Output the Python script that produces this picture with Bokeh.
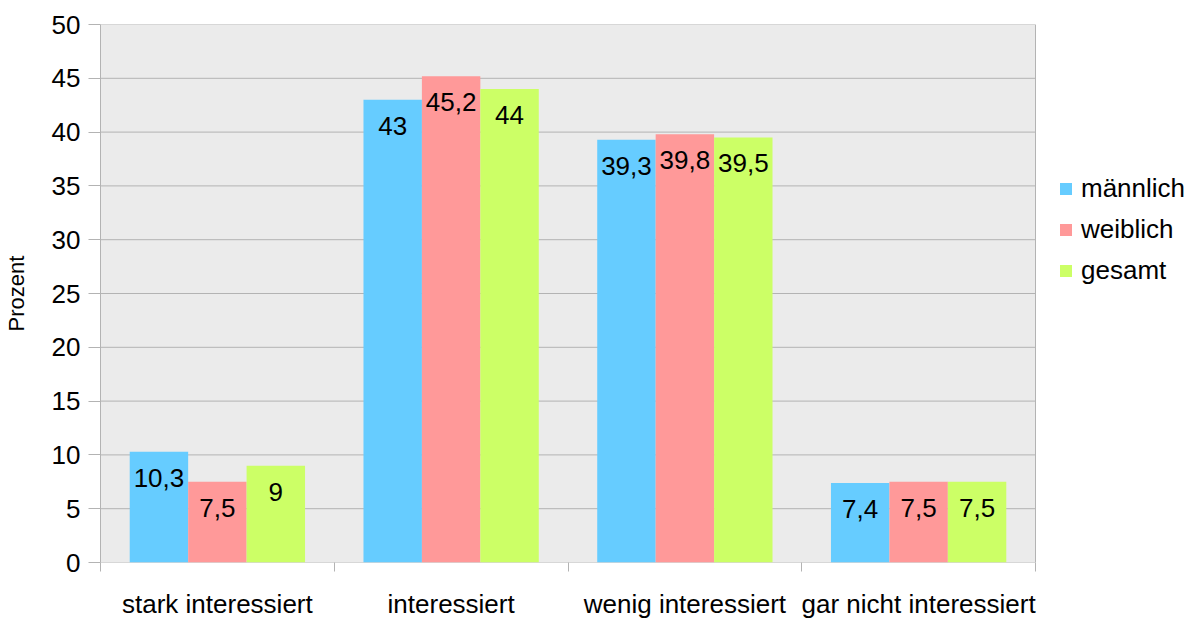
import numpy as np
from bokeh.plotting import figure
from bokeh.models import (Range1d, FixedTicker, ColumnDataSource, LabelSet,
                          Legend, LegendItem)
from bokeh.core.properties import value
from bokeh.embed import file_html
from bokeh.resources import INLINE

# ---- data ----
categories = ["stark interessiert", "interessiert", "wenig interessiert", "gar nicht interessiert"]
maennlich = [10.3, 43, 39.3, 7.4]
weiblich = [7.5, 45.2, 39.8, 7.5]
gesamt = [9, 44, 39.5, 7.5]
series_names = ["männlich", "weiblich", "gesamt"]
y_ticks = [0, 5, 10, 15, 20, 25, 30, 35, 40, 45, 50]

colors = ["#66ccff", "#ff9999", "#ccff66"]
FONT = "Liberation Sans"
GRID = "#b3b3b3"
WALL = "#ebebeb"

W, H = 1197, 621
LEFT, TOP, BOTTOM = 100, 24, 50
WALL_PX = 935  # width of the chart wall in pixels
n = len(categories)
x_end = n * (W - LEFT) / WALL_PX  # extra room on the right holds the legend

def fmt(v):
    if float(v).is_integer():
        return str(int(v))
    return str(v).replace(".", ",")

p = figure(width=W, height=H, output_backend="svg", toolbar_location=None,
           x_range=Range1d(0, x_end), y_range=Range1d(0, 50),
           min_border_left=LEFT, min_border_right=0, min_border_top=TOP, min_border_bottom=BOTTOM)
p.background_fill_color = "white"
p.border_fill_color = "white"
p.outline_line_color = None
p.xgrid.grid_line_color = None
p.ygrid.grid_line_color = None

# chart wall + grid + right border
p.quad(left=0, right=n, bottom=0, top=50, fill_color=WALL, line_color=None)
p.segment(x0=[0] * len(y_ticks), x1=[n] * len(y_ticks), y0=y_ticks, y1=y_ticks,
          line_color=GRID, line_width=1)
p.segment(x0=[n], x1=[n], y0=[0], y1=[50], line_color=GRID, line_width=1)

centers = np.arange(n) + 0.5
offsets = [-0.25, 0.0, 0.25]
renderers = []
for vals, off, col in zip([maennlich, weiblich, gesamt], offsets, colors):
    src = ColumnDataSource(dict(x=centers + off, top=vals, lab=[fmt(v) for v in vals]))
    r = p.vbar(x="x", top="top", width=0.25, source=src, fill_color=col, line_color=None)
    renderers.append(r)
    p.add_layout(LabelSet(x="x", y="top", text="lab", source=src, text_align="center",
                          text_baseline="top", y_offset=-17, text_font=value(FONT),
                          text_font_size="26px", text_color="black"))

# x axis: category labels at centers, tick marks at boundaries
xa = p.xaxis[0]
xa.ticker = FixedTicker(ticks=list(centers), minor_ticks=list(range(n + 1)))
xa.major_label_overrides = {float(c): t for c, t in zip(centers, categories)}
xa.major_tick_out = 0
xa.major_tick_in = 0
xa.minor_tick_out = 9
xa.minor_tick_in = 0
xa.minor_tick_line_color = GRID
xa.axis_line_color = None
xa.major_label_standoff = 17
xa.major_label_text_font = FONT
xa.major_label_text_font_size = "26px"
xa.major_label_text_color = "black"

ya = p.yaxis[0]
ya.ticker = FixedTicker(ticks=y_ticks)
ya.major_tick_out = 12
ya.major_tick_in = 0
ya.major_tick_line_color = GRID
ya.minor_tick_line_color = None
ya.axis_line_color = GRID
ya.major_label_standoff = 8
ya.major_label_text_font = FONT
ya.major_label_text_font_size = "26px"
ya.major_label_text_color = "black"
ya.axis_label = "Prozent"
ya.axis_label_text_font = FONT
ya.axis_label_text_font_size = "22px"
ya.axis_label_text_font_style = "normal"
ya.axis_label_text_color = "black"
ya.axis_label_standoff = 20

legend = Legend(items=[LegendItem(label=s, renderers=[r]) for s, r in zip(series_names, renderers)],
                location=(958, 276), padding=0, margin=0, spacing=10,
                glyph_width=15, glyph_height=15, label_height=30, label_standoff=8,
                label_text_font=FONT, label_text_font_size="26px", label_text_color="black",
                label_text_baseline="middle", border_line_color=None,
                background_fill_alpha=0)
p.add_layout(legend)

open("out.html", "w").write(file_html(p, INLINE))
